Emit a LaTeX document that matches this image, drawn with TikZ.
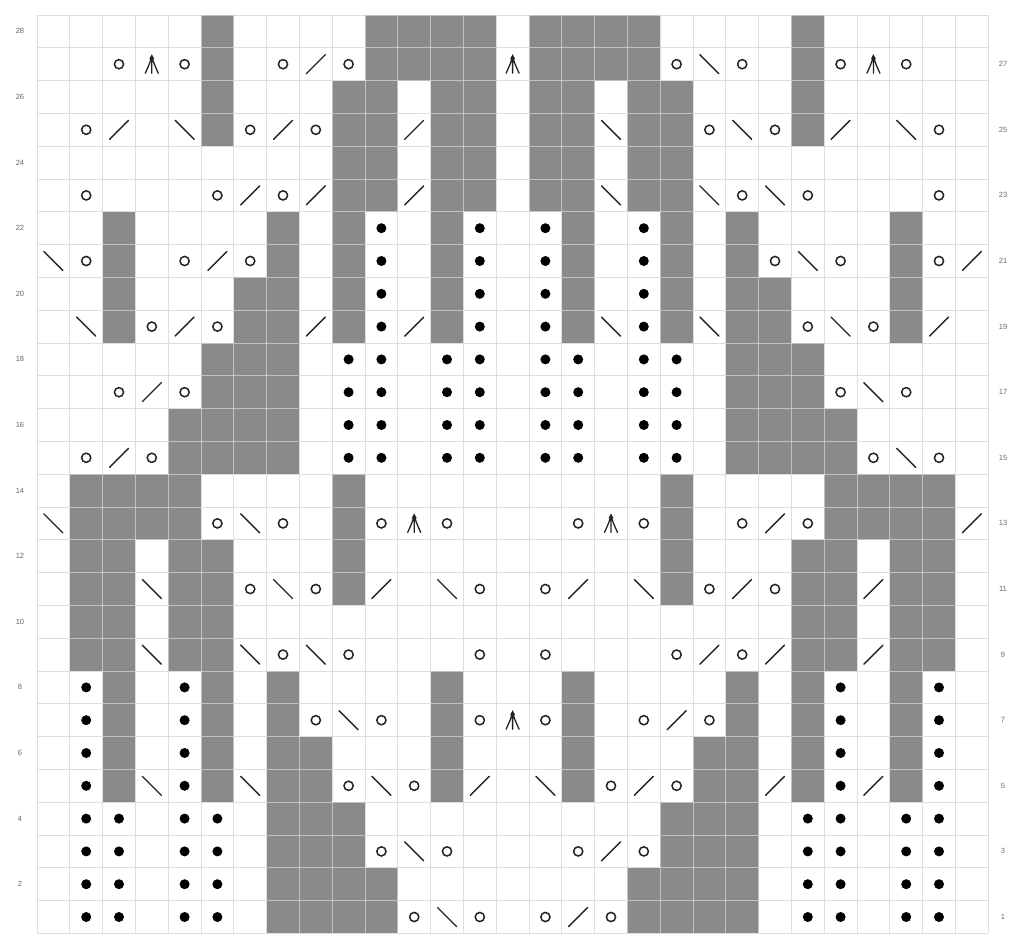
\documentclass[tikz,border=0pt]{standalone}
\usepackage{fontspec}
\setmainfont{Liberation Sans}
\definecolor{cellgray}{RGB}{138,138,138}
\definecolor{gridgray}{RGB}{212,212,212}
\definecolor{labelgray}{RGB}{105,105,105}
\definecolor{ink}{RGB}{35,35,35}
\tikzset{
  gridline/.style={draw=gridgray,line width=0.9pt,opacity=0.75},
  rowlabel/.style={text=labelgray,font=\fontsize{7.5}{8}\selectfont,inner sep=0pt},
  pics/yo/.style={code={\draw[ink,line width=1.5pt] (0,0) circle (4.6);}},
  pics/ktog/.style={code={\draw[ink,line width=1.4pt,line cap=round] (-9.5,9.5) -- (9.5,-9.5);}},
  pics/sskd/.style={code={\draw[ink,line width=1.4pt,line cap=round] (-9.5,-9.5) -- (9.5,9.5);}},
  pics/cdd/.style={code={\draw[ink,line width=1.3pt,line cap=round,line join=round]
      (0,-8) -- (0,9)
      (0,-8) .. controls (-2,-1) .. (-6.5,9)
      (0,-8) .. controls (2,-1) .. (6.5,9);
      \fill[ink] (0,-10) -- (-2.6,-5) -- (2.6,-5) -- cycle;}},
  pics/purl/.style={code={\fill[black] (0,0) circle (5);}},
}
\newcommand{\cw}{32.8}
\begin{document}
\begin{tikzpicture}[x=1pt,y=-1pt]
\fill[white] (0,0) rectangle (1017,942);
\useasboundingbox (0,0) rectangle (1017,942);
% gray cells
\foreach \r/\cl in {
28/{6,11,12,13,14,16,17,18,19,24},
27/{6,11,12,13,14,16,17,18,19,24},
26/{6,10,11,13,14,16,17,19,20,24},
25/{6,10,11,13,14,16,17,19,20,24},
24/{10,11,13,14,16,17,19,20},
23/{10,11,13,14,16,17,19,20},
22/{3,8,10,13,17,20,22,27},
21/{3,8,10,13,17,20,22,27},
20/{3,7,8,10,13,17,20,22,23,27},
19/{3,7,8,10,13,17,20,22,23,27},
18/{6,7,8,22,23,24},
17/{6,7,8,22,23,24},
16/{5,6,7,8,22,23,24,25},
15/{5,6,7,8,22,23,24,25},
14/{2,3,4,5,10,20,25,26,27,28},
13/{2,3,4,5,10,20,25,26,27,28},
12/{2,3,5,6,10,20,24,25,27,28},
11/{2,3,5,6,10,20,24,25,27,28},
10/{2,3,5,6,24,25,27,28},
9/{2,3,5,6,24,25,27,28},
8/{3,6,8,13,17,22,24,27},
7/{3,6,8,13,17,22,24,27},
6/{3,6,8,9,13,17,21,22,24,27},
5/{3,6,8,9,13,17,21,22,24,27},
4/{8,9,10,20,21,22},
3/{8,9,10,20,21,22},
2/{8,9,10,11,19,20,21,22},
1/{8,9,10,11,19,20,21,22}}
{\foreach \c in \cl {\fill[cellgray] ({37+(\c-1)*\cw},{15+(28-\r)*\cw}) rectangle ++(\cw,\cw);}}
% grid
\foreach \i in {0,...,29} {\draw[gridline] ({37+\i*\cw},15) -- ({37+\i*\cw},{15+28*\cw});}
\foreach \j in {0,...,28} {\draw[gridline] (37,{15+\j*\cw}) -- ({37+29*\cw},{15+\j*\cw});}
% purl dots
\foreach \r/\cl in {
22/{11,14,16,19},21/{11,14,16,19},20/{11,14,16,19},19/{11,14,16,19},
18/{10,11,13,14,16,17,19,20},17/{10,11,13,14,16,17,19,20},
16/{10,11,13,14,16,17,19,20},15/{10,11,13,14,16,17,19,20},
8/{2,5,25,28},7/{2,5,25,28},6/{2,5,25,28},5/{2,5,25,28},
4/{2,3,5,6,24,25,27,28},3/{2,3,5,6,24,25,27,28},
2/{2,3,5,6,24,25,27,28},1/{2,3,5,6,24,25,27,28}}
{\foreach \c in \cl {\pic at ({37+(\c-0.5)*\cw},{15+(28.5-\r)*\cw}) {purl};}}
% yarn overs
\foreach \r/\cl in {
27/{3,5,8,10,20,22,25,27},
25/{2,7,9,21,23,28},
23/{2,6,8,22,24,28},
21/{2,5,7,23,25,28},
19/{4,6,24,26},
17/{3,5,25,27},
15/{2,4,26,28},
13/{6,8,11,13,17,19,22,24},
11/{7,9,14,16,21,23},
9/{8,10,14,16,20,22},
7/{9,11,14,16,19,21},
5/{10,12,18,20},
3/{11,13,17,19},
1/{12,14,16,18}}
{\foreach \c in \cl {\pic at ({37+(\c-0.5)*\cw},{15+(28.5-\r)*\cw}) {yo};}}
% right-leaning decreases
\foreach \r/\cl in {
27/{9},25/{3,8,12,25},23/{7,9,12},21/{6,29},19/{5,9,12,28},17/{4},15/{3},
13/{23,29},11/{11,17,22,26},9/{21,23,26},7/{20},5/{14,19,23,26},3/{18},1/{17}}
{\foreach \c in \cl {\pic at ({37+(\c-0.5)*\cw},{15+(28.5-\r)*\cw}) {ktog};}}
% left-leaning decreases
\foreach \r/\cl in {
27/{21},25/{5,18,22,27},23/{18,21,23},21/{1,24},19/{2,18,21,25},17/{26},15/{27},
13/{1,7},11/{4,8,13,19},9/{4,7,9},7/{10},5/{4,7,11,16},3/{12},1/{13}}
{\foreach \c in \cl {\pic at ({37+(\c-0.5)*\cw},{15+(28.5-\r)*\cw}) {sskd};}}
% central double decreases
\foreach \r/\c in {27/4,27/15,27/26,13/12,13/18,7/15}
{\pic at ({37+(\c-0.5)*\cw},{15+(28.5-\r)*\cw}) {cdd};}
% row numbers
\foreach \r in {2,4,...,28} {\node[rowlabel] (L\r) at (20,{15+(28.5-\r)*\cw}) {\r};}
\foreach \r in {1,3,...,27} {\node[rowlabel] (R\r) at (1003,{15+(28.5-\r)*\cw}) {\r};}
\end{tikzpicture}
\end{document}
